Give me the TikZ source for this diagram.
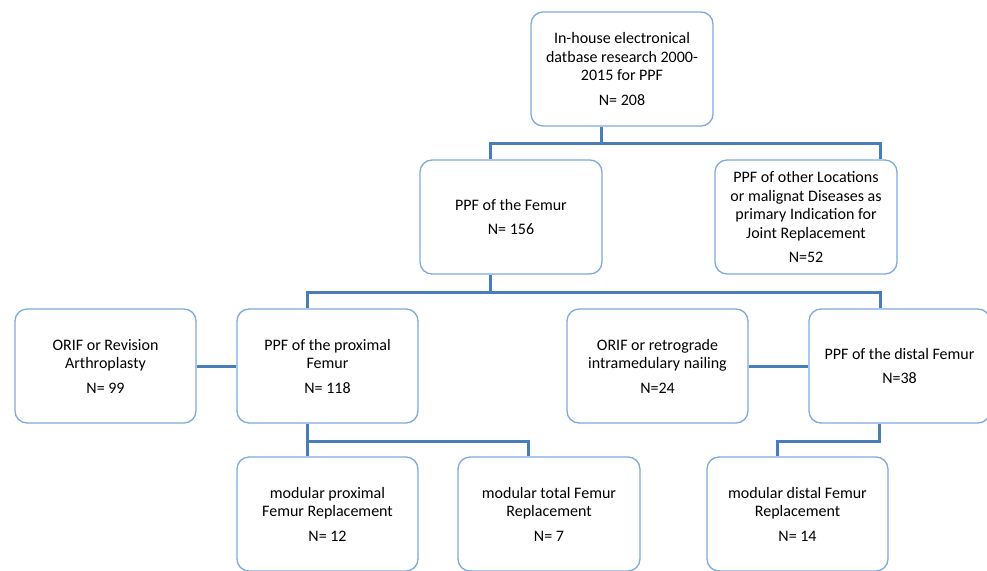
\documentclass[tikz,border=0pt]{standalone}
\usepackage{fontspec}
\setmainfont{Carlito}
\definecolor{boxline}{RGB}{125,170,220}
\definecolor{conn}{RGB}{72,125,183}
\tikzset{
  box/.style={draw=boxline, line width=1.3pt, fill=white, rounded corners=12pt,
    minimum width=181pt, minimum height=114pt, align=center, inner sep=0pt,
    font=\fontsize{16pt}{18.5pt}\selectfont},
  link/.style={draw=conn, line width=3pt}
}
\begin{document}
\begin{tikzpicture}[x=1pt,y=-1pt]
\useasboundingbox (0,0) rectangle (987,570);
\clip (0,0) rectangle (987,570);
\node[box, minimum width=182pt] (top) at (622,69) {In-house electronical\\datbase research 2000-\\2015 for PPF\\[6pt]N= 208};
\node[box, minimum width=182pt] (fem) at (511,217) {PPF of the Femur\\[6pt]N= 156};
\node[box, minimum width=182pt] (oth) at (806,217) {PPF of other Locations\\or malignat Diseases as\\primary Indication for\\Joint Replacement\\[6pt]N=52};
\node[box] (orA) at (105.5,366) {ORIF or Revision\\Arthroplasty\\[6pt]N= 99};
\node[box] (prox) at (327.5,366) {PPF of the proximal\\Femur\\[6pt]N= 118};
\node[box] (orB) at (657.5,366) {ORIF or retrograde\\intramedulary nailing\\[6pt]N=24};
\node[box] (dist) at (899.5,366) {PPF of the distal Femur\\[6pt]N=38};
\node[box] (mprox) at (327.5,514) {modular proximal\\Femur Replacement\\[6pt]N= 12};
\node[box, minimum width=182pt] (mtot) at (549,514) {modular total Femur\\Replacement\\[6pt]N= 7};
\node[box] (mdist) at (797.5,514) {modular distal Femur\\Replacement\\[6pt]N= 14};
\coordinate (a1) at (601,143);
\coordinate (a2) at (490,143);
\coordinate (a3) at (880,143);
\coordinate (b1) at (490,292);
\coordinate (b2) at (307,292);
\coordinate (b3) at (880,292);
\coordinate (c1) at (307,441);
\coordinate (c2) at (528,441);
\coordinate (d1) at (879,441);
\coordinate (d2) at (777,441);
\draw[link] (top.south -| a1) -- (a1);
\draw[link] (fem.north -| a2) -- (a2) -- (a3) -- (oth.north -| a3);
\draw[link] (fem.south -| b1) -- (b1);
\draw[link] (prox.north -| b2) -- (b2) -- (b3) -- (dist.north -| b3);
\draw[link] (orA.east) -- (prox.west);
\draw[link] (orB.east) -- (dist.west);
\draw[link] (prox.south -| c1) -- (mprox.north -| c1);
\draw[link] (c1) -- (c2) -- (mtot.north -| c2);
\draw[link] (dist.south -| d1) -- (d1) -- (d2) -- (mdist.north -| d2);
\end{tikzpicture}
\end{document}
